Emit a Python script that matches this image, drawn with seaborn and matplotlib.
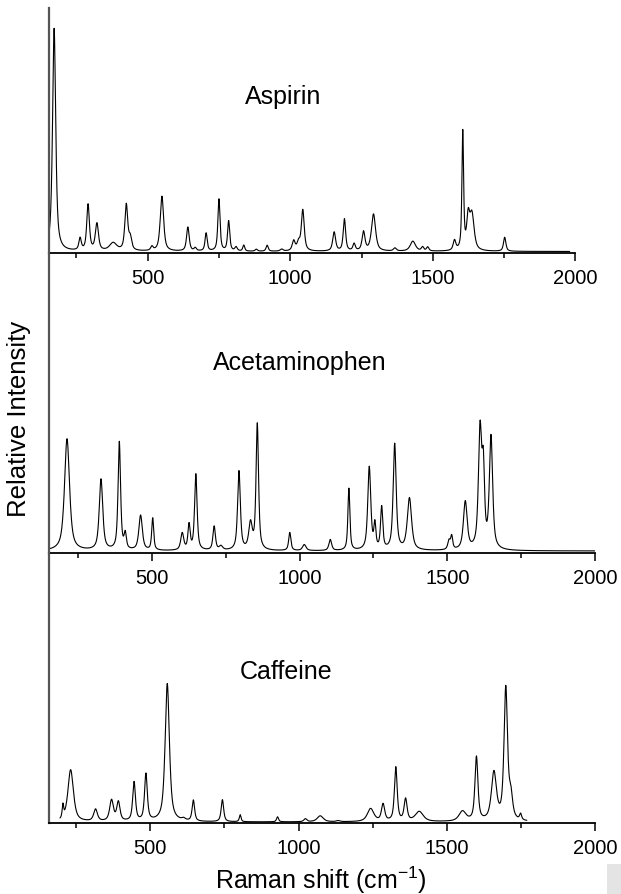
import numpy as np
import pandas as pd
import matplotlib
matplotlib.use("Agg")
import matplotlib.pyplot as plt
from matplotlib.patches import Rectangle
import seaborn as sns

# ---------------- data (peaks) ----------------
aspirin_pos = [172, 263, 291, 322, 379, 425, 439, 515, 550, 641, 667, 705, 750, 784, 810, 837,
               881, 919, 970, 1012, 1029, 1044, 1154, 1190, 1224, 1257, 1292, 1367, 1430, 1464,
               1482, 1576, 1605, 1624, 1637, 1752]
aspirin_int = [223, 12, 46, 27, 8, 46, 12, 4, 55, 24, 3, 18, 52, 30, 4, 6,
               2, 6, 2, 10, 8, 41, 19, 32, 7, 19, 37, 3, 10, 4,
               4, 10, 118, 30, 36, 14]
aspirin_fwhm = [13, 10, 11, 13, 30, 12, 12, 10, 14, 11, 10, 9, 9, 9, 10, 8,
                10, 9, 12, 12, 12, 12, 12, 10, 10, 12, 17, 12, 22, 10,
                10, 11, 7, 12, 18, 10]

acet_pos = [213, 328, 390, 410, 462, 503, 603, 626, 649, 711, 734, 795, 834, 857, 967, 1016,
            1104, 1167, 1236, 1255, 1278, 1322, 1372, 1506, 1515, 1561, 1611, 1622, 1648]
acet_int = [112, 71, 108, 15, 35, 32, 17, 25, 76, 24, 4, 79, 26, 126, 18, 6,
            11, 62, 83, 24, 42, 106, 52, 9, 13, 48, 118, 72, 112]
acet_fwhm = [20, 14, 10, 9, 14, 8, 12, 9, 10, 10, 14, 11, 14, 10, 9, 14,
             11, 8, 12, 8, 9, 12, 17, 10, 8, 15, 13, 10, 13]

caff_pos = [205, 231, 315, 369, 392, 445, 485, 557, 612, 645, 743, 803, 929, 1023, 1073, 1133,
            1243, 1285, 1328, 1361, 1407, 1553, 1600, 1659, 1699, 1716, 1749]
caff_int = [13, 52, 12, 21, 19, 39, 47, 138, 2, 21, 22, 7, 5, 3, 6, 1,
            13, 17, 54, 22, 10, 10, 64, 48, 132, 22, 6]
caff_fwhm = [6, 22, 15, 15, 13, 11, 11, 17, 14, 10, 10, 7, 8, 12, 24, 14,
             26, 13, 11, 12, 32, 28, 12, 20, 14, 14, 8]

titles = ["Aspirin", "Acetaminophen", "Caffeine"]
x_ranges = [(154, 1980), (152, 2000), (195, 1770)]
x_limits = [(154, 2000), (152, 2000), (158, 2000)]
y_limits = [(-1.5, 243.5), (-2, 298), (-1, 269)]
x_ticks = [500, 1000, 1500, 2000]
x_minor = [250, 750, 1250, 1750]


def spectrum(lo, hi, pos, inten, fwhm):
    x = np.arange(lo, hi + 0.5, 0.5)
    y = np.zeros_like(x)
    for p, a, w in zip(pos, inten, fwhm):
        g = w / 2.0
        lor = 1.0 / (1.0 + ((x - p) / g) ** 2)
        gau = np.exp(-np.log(2) * ((x - p) / g) ** 2)
        y += a * (0.7 * lor + 0.3 * gau)
    return pd.DataFrame({"shift": x, "intensity": y})


sns.set_style("ticks")
plt.rcParams["font.family"] = ["Liberation Sans", "DejaVu Sans"]
plt.rcParams["mathtext.fontset"] = "custom"
plt.rcParams["mathtext.rm"] = "Liberation Sans"
plt.rcParams["mathtext.it"] = "Liberation Sans:italic"
plt.rcParams["text.color"] = "black"
plt.rcParams["xtick.color"] = "black"
plt.rcParams["xtick.labelcolor"] = "black"

W, H = 621, 895
fig = plt.figure(figsize=(W / 100, H / 100), dpi=100)
fig.patch.set_facecolor("white")

# axes rectangles in pixels: (left, right, top, bottom)
boxes = [(49, 575.4, 9, 254), (49, 595, 254, 554), (49, 595, 554, 824)]
title_xy = [(283, 97), (300, 363), (286, 672)]
peaks = [(aspirin_pos, aspirin_int, aspirin_fwhm),
         (acet_pos, acet_int, acet_fwhm),
         (caff_pos, caff_int, caff_fwhm)]

for i in range(3):
    l, r, t, b = boxes[i]
    ax = fig.add_axes([l / W, 1 - b / H, (r - l) / W, (b - t) / H])
    ax.patch.set_alpha(0)
    df = spectrum(*x_ranges[i], *peaks[i])
    sns.lineplot(data=df, x="shift", y="intensity", ax=ax, color="black",
                 linewidth=0.8, estimator=None, sort=False)
    ax.set_xlim(*x_limits[i])
    ax.set_ylim(*y_limits[i])
    ax.set_xlabel("")
    ax.set_ylabel("")
    ax.set_yticks([])
    ax.set_xticks(x_ticks)
    ax.set_xticks(x_minor, minor=True)
    ax.set_xticklabels([str(v) for v in x_ticks])
    ax.tick_params(axis="x", which="major", direction="out", length=6, width=1.1,
                   labelsize=14.5, pad=5, color="black", labelcolor="black")
    ax.tick_params(axis="x", which="minor", direction="out", length=3.5, width=1.1,
                   color="black")
    for s in ["top", "right"]:
        ax.spines[s].set_visible(False)
    ax.spines["bottom"].set_color("black")
    ax.spines["bottom"].set_linewidth(1.3)
    ax.spines["left"].set_color("#555555")
    ax.spines["left"].set_linewidth(1.6)
    tx, ty = title_xy[i]
    fig.text(tx / W, 1 - ty / H, titles[i], ha="center", va="center", fontsize=18,
             color="black")

fig.text(19 / W, 1 - 419 / H, "Relative Intensity", rotation=90, ha="center",
         va="center", fontsize=18.5, color="black")
fig.text(321 / W, 1 - 880 / H, "Raman shift (cm$^{\\mathregular{-1}}$)", ha="center",
         va="center", fontsize=18, color="black")

fig.patches.append(Rectangle((607 / W, 0), 14 / W, 30 / H, transform=fig.transFigure,
                             facecolor="#e4e4e4", edgecolor="none", zorder=0))

fig.savefig("out.png", dpi=100, facecolor="white")
